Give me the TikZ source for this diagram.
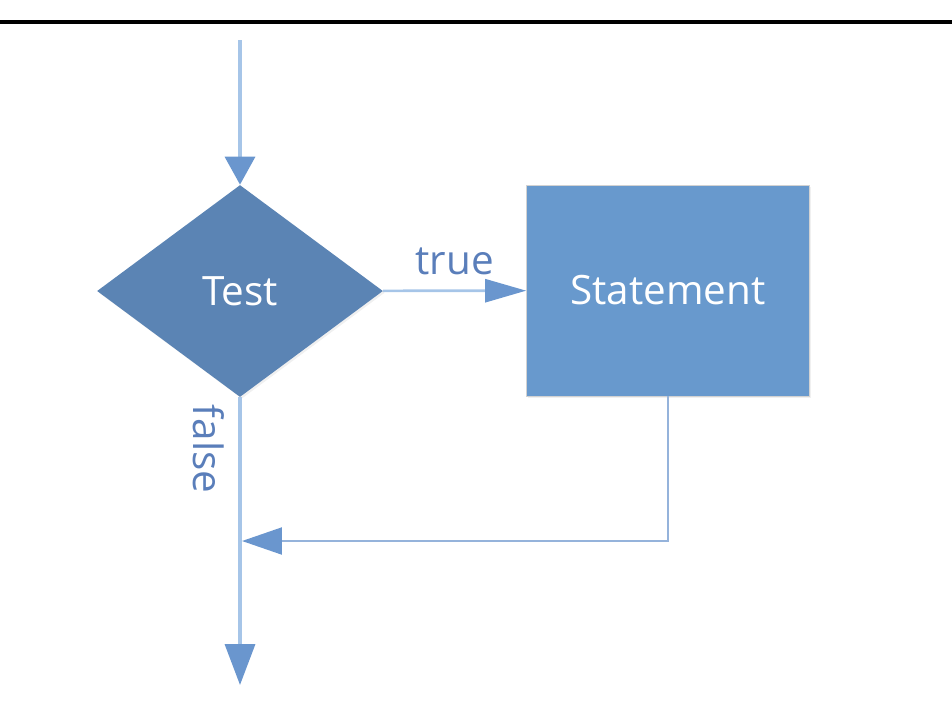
\documentclass[tikz,border=0pt]{standalone}
\usepackage{fontspec}
\setmainfont{Open Sans}
\usepackage{xcolor}
\usetikzlibrary{arrows.meta,shapes.geometric,positioning,shadows}

\definecolor{testblue}{HTML}{5B84B4}
\definecolor{stmtblue}{HTML}{6899CD}
\definecolor{lineblue}{HTML}{A6C5E8}
\definecolor{loopblue}{HTML}{95B3DB}
\definecolor{headblue}{HTML}{6A96CE}
\definecolor{labelblue}{HTML}{5A7EBA}

\begin{document}
\begin{tikzpicture}[x=0.02cm, y=-0.02cm,
    decision/.style={diamond, fill=testblue, minimum width=5.72cm, minimum height=4.24cm, inner sep=0pt, text=white, font=\fontsize{23}{27}\selectfont, drop shadow={opacity=0.12, shadow xshift=1pt, shadow yshift=-1pt}},
    stmt/.style={rectangle, fill=stmtblue, draw=gray!35, thin, minimum width=5.66cm, minimum height=4.22cm, text=white, font=\fontsize{23}{27}\selectfont, drop shadow={opacity=0.12, shadow xshift=1pt, shadow yshift=-1pt}},
    flow/.style={draw=lineblue, line width=2pt, -{Triangle[length=0.82cm, width=0.6cm, color=headblue]}},
    back/.style={draw=loopblue, line width=1.2pt, -{Triangle[length=0.8cm, width=0.54cm, color=headblue]}},
    lbl/.style={text=labelblue, font=\fontsize{23}{27}\selectfont}
]
    \useasboundingbox (0,0) rectangle (952,700);
    \draw[line width=0.08cm] (0,22) -- (952,22);

    \coordinate (start) at (240,40);
    \node[decision] (test) at (240,291) {Test};
    \node[stmt] (stmt) at (668,290.5) {Statement};
    \coordinate (end) at (240,685);
    \coordinate (join) at (242,541);

    \draw[flow, -{Triangle[length=0.56cm, width=0.6cm, color=headblue]}] (start) -- (test);
    \draw[flow, line width=1.5pt, -{Triangle[length=0.82cm, width=0.46cm, color=headblue]}] (test) -- node[lbl, above=5pt] {true} (stmt);
    \draw[flow] (test) -- node[lbl, rotate=-90, anchor=north, pos=0.18, inner sep=8pt] {false} (end);
    \draw[back] (stmt) |- (join);
\end{tikzpicture}
\end{document}
